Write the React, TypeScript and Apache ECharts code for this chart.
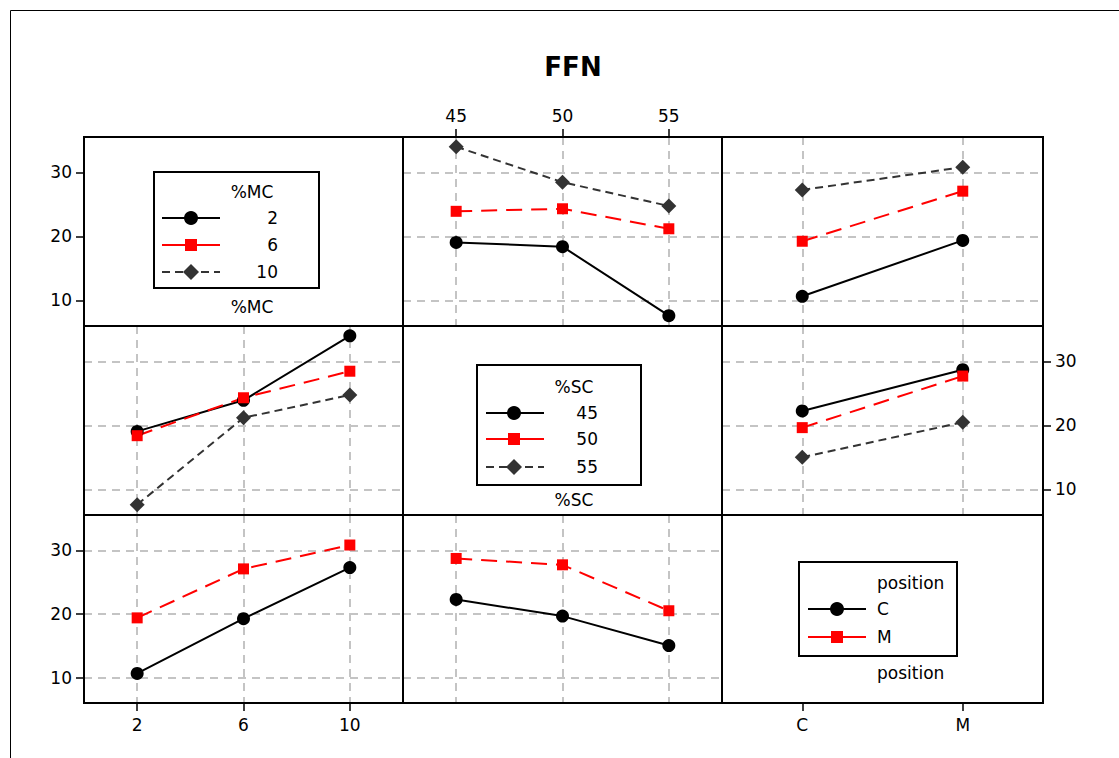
import React, { useEffect, useRef } from "react";
import * as echarts from "echarts";

// factor levels
const mcLevels = ["2", "6", "10"];
const scLevels = ["45", "50", "55"];
const positionLevels = ["C", "M"];
const mcValues = [2, 6, 10];
const scValues = [45, 50, 55];
const positionValues = [0, 1];
const yTicks = [10, 20, 30];

// mean FFN; rows = %MC (2, 6, 10), columns = %SC (45, 50, 55)
const meanMcSc = [
  [19.07, 18.4, 7.62],
  [23.93, 24.33, 21.2],
  [34.02, 28.48, 24.77],
];
// rows = %MC (2, 6, 10), columns = position (C, M)
const meanMcPos = [
  [10.65, 19.38],
  [19.25, 27.08],
  [27.28, 30.83],
];
// rows = %SC (45, 50, 55), columns = position (C, M)
const meanScPos = [
  [22.27, 28.72],
  [19.66, 27.72],
  [15.03, 20.5],
];

const FONT = '"DejaVu Sans", sans-serif';
const FS = 17;
const colX = [84, 403, 722, 1043];
const rowY = [137, 326, 515, 703];

const levelStyles = [
  { color: "#000000", symbol: "circle", size: 13, type: "solid" as any },
  { color: "#ff0000", symbol: "rect", size: 11, type: [16, 9] as any },
  { color: "#333333", symbol: "diamond", size: 15, type: [8, 5] as any },
];

const transpose = (m: number[][]) => m[0].map((_, j) => m.map((row) => row[j]));

export default function App() {
  const ref = useRef<HTMLDivElement>(null);
  useEffect(() => {
    if (!ref.current) return;
    const chart = echarts.init(ref.current, undefined, { renderer: "svg" });

    const xDefs = [
      { min: 0, max: 12, values: mcValues, fmt: (v: number) => String(v) },
      { min: 42.5, max: 57.5, values: scValues, fmt: (v: number) => String(v) },
      { min: -0.5, max: 1.5, values: positionValues, fmt: (v: number) => positionLevels[Math.round(v)] },
    ];

    const gridLine = { color: "#c4c4c4", type: [8, 6], width: 2 };

    const grids: any[] = [];
    const xAxes: any[] = [];
    const yAxes: any[] = [];
    for (let r = 0; r < 3; r++) {
      for (let c = 0; c < 3; c++) {
        const g = r * 3 + c;
        grids.push({
          left: colX[c],
          top: rowY[r],
          width: colX[c + 1] - colX[c],
          height: rowY[r + 1] - rowY[r],
          containLabel: false,
        });
        const xd = xDefs[c];
        const showX = (r === 0 && c === 1) || (r === 2 && c === 0) || (r === 2 && c === 2);
        xAxes.push({
          type: "value",
          gridIndex: g,
          min: xd.min,
          max: xd.max,
          position: r === 0 && c === 1 ? "top" : "bottom",
          axisLine: { show: false, onZero: false },
          axisTick: {
            show: showX,
            customValues: xd.values,
            length: 8,
            lineStyle: { color: "#000", width: 1.5 },
          },
          axisLabel: {
            show: showX,
            customValues: xd.values,
            formatter: xd.fmt,
            fontSize: FS,
            color: "#000",
            fontFamily: FONT,
            margin: 13,
          },
          splitLine: { show: r !== c, lineStyle: gridLine },
        });
        const showY = (r === 0 && c === 0) || (r === 2 && c === 0) || (r === 1 && c === 2);
        yAxes.push({
          type: "value",
          gridIndex: g,
          min: 6,
          max: 35.55,
          position: r === 1 ? "right" : "left",
          axisLine: { show: false, onZero: false },
          axisTick: {
            show: showY,
            customValues: yTicks,
            length: 8,
            lineStyle: { color: "#000", width: 1.5 },
          },
          axisLabel: {
            show: showY,
            customValues: yTicks,
            fontSize: FS,
            color: "#000",
            fontFamily: FONT,
            margin: 12,
          },
          splitLine: { show: r !== c, lineStyle: gridLine },
        });
      }
    }

    const series: any[] = [];
    const addPanel = (
      r: number,
      c: number,
      groupNames: string[],
      xs: number[],
      values: number[][],
      factor: string
    ) => {
      const g = r * 3 + c;
      values.forEach((row, i) => {
        const st = levelStyles[i];
        series.push({
          type: "line",
          name: `${factor} ${groupNames[i]}`,
          xAxisIndex: g,
          yAxisIndex: g,
          data: row.map((v, j) => [xs[j], v]),
          symbol: st.symbol,
          symbolSize: st.size,
          itemStyle: { color: st.color },
          lineStyle: { color: st.color, width: 2, type: st.type },
          z: 3,
        });
      });
    };
    addPanel(0, 1, mcLevels, scValues, meanMcSc, "%MC");
    addPanel(0, 2, mcLevels, positionValues, meanMcPos, "%MC");
    addPanel(1, 0, scLevels, mcValues, transpose(meanMcSc), "%SC");
    addPanel(1, 2, scLevels, positionValues, meanScPos, "%SC");
    addPanel(2, 0, positionLevels, mcValues, transpose(meanMcPos), "position");
    addPanel(2, 1, positionLevels, scValues, transpose(meanScPos), "position");

    const graphics: any[] = [];
    // outer frame
    graphics.push({
      type: "rect",
      shape: { x: 10.5, y: 10.5, width: 1300, height: 900 },
      style: { fill: "none", stroke: "#000", lineWidth: 1 },
      silent: true,
    });
    // panel borders
    for (let r = 0; r < 3; r++) {
      for (let c = 0; c < 3; c++) {
        graphics.push({
          type: "rect",
          shape: {
            x: colX[c],
            y: rowY[r],
            width: colX[c + 1] - colX[c],
            height: rowY[r + 1] - rowY[r],
          },
          style: { fill: "none", stroke: "#000", lineWidth: 2 },
          z: 10,
          silent: true,
        });
      }
    }

    const txt = (text: string, x: number, y: number, align: string) => ({
      type: "text",
      x,
      y,
      z: 11,
      style: {
        text,
        fill: "#000",
        fontSize: FS,
        fontFamily: FONT,
        align,
        verticalAlign: "middle",
      },
    });

    const marker = (i: number, cx: number, cy: number) => {
      const color = levelStyles[i].color;
      if (i === 0) return { type: "circle", z: 12, shape: { cx, cy, r: 7 }, style: { fill: color } };
      if (i === 1)
        return { type: "rect", z: 12, shape: { x: cx - 6, y: cy - 6, width: 12, height: 12 }, style: { fill: color } };
      return {
        type: "polygon",
        z: 12,
        shape: { points: [[cx, cy - 8], [cx + 8, cy], [cx, cy + 8], [cx - 8, cy]] },
        style: { fill: color },
      };
    };

    const legendBox = (
      box: { x: number; y: number; w: number; h: number },
      title: string,
      titleX: number,
      titleY: number,
      titleAlign: string,
      names: string[],
      itemYs: number[],
      lineX1: number,
      lineX2: number,
      markX: number,
      labelX: number,
      labelAlign: string,
      belowY: number
    ) => {
      graphics.push({
        type: "rect",
        z: 11,
        shape: { x: box.x, y: box.y, width: box.w, height: box.h },
        style: { fill: "#fff", stroke: "#000", lineWidth: 2 },
      });
      graphics.push(txt(title, titleX, titleY, titleAlign));
      names.forEach((n, i) => {
        const y = itemYs[i];
        graphics.push({
          type: "line",
          z: 12,
          shape: { x1: lineX1, y1: y, x2: lineX2, y2: y },
          style: {
            stroke: levelStyles[i].color,
            lineWidth: 2,
            lineDash: i === 2 ? [8, 5] : null,
          },
        });
        graphics.push(marker(i, markX, y));
        graphics.push(txt(n, labelX, y, labelAlign));
      });
      graphics.push(txt(title, titleX, belowY, titleAlign));
    };

    legendBox({ x: 154, y: 172, w: 165, h: 116 }, "%MC", 252, 192, "center", mcLevels,
      [218, 245, 272], 162, 220, 191, 278, "right", 307);
    legendBox({ x: 477, y: 365, w: 164, h: 120 }, "%SC", 574, 387, "center", scLevels,
      [413, 439, 467], 486, 544, 514, 598, "right", 500);
    legendBox({ x: 799, y: 562, w: 158, h: 94 }, "position", 877, 583, "left", positionLevels,
      [609, 637], 808, 866, 837, 877, "left", 673);

    chart.setOption({
      animation: false,
      backgroundColor: "#ffffff",
      title: {
        text: "FFN",
        left: 568,
        top: 49,
        textAlign: "center",
        textStyle: { fontSize: 26, fontWeight: "bold", fontFamily: FONT, color: "#000" },
      },
      grid: grids,
      xAxis: xAxes,
      yAxis: yAxes,
      series,
      graphic: graphics,
    });
    return () => chart.dispose();
  }, []);
  return (
    <div
      ref={ref}
      style={{ position: "absolute", left: 0, top: 0, width: 1119, height: 758, background: "#fff" }}
    />
  );
}
